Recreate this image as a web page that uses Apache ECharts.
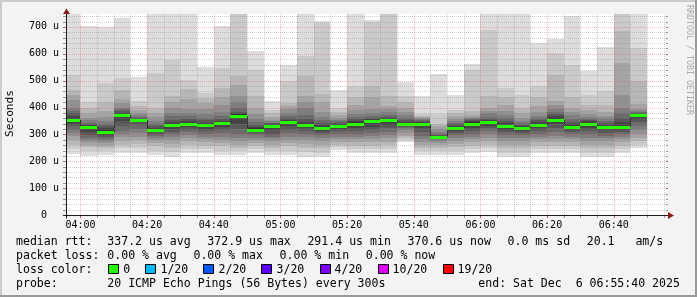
<!DOCTYPE html>
<html><head><meta charset="utf-8">
<script src="https://cdn.jsdelivr.net/npm/echarts@6/dist/echarts.min.js"></script>
<style>html,body{margin:0;padding:0;background:#f3f3f3}#c{width:697px;height:297px}</style>
</head><body><div id="c"></div>
<script>
// ---------------- data ----------------
const binStarts = ['03:55','04:00','04:05','04:10','04:15','04:20','04:25','04:30','04:35','04:40','04:45','04:50',
  '04:55','05:00','05:05','05:10','05:15','05:20','05:25','05:30','05:35','05:40','05:45','05:50',
  '05:55','06:00','06:05','06:10','06:15','06:20','06:25','06:30','06:35','06:40','06:45'];
const binMinutes = 5;
const endTime = '06:55:40';
const spanMinutes = 180;

// median rtt per bin (microseconds)
const medianRtt = [354,326,309,372.9,353,317,336,340,336,341,370,318,333,346,336,324,333,340,351,355,338,338,291.4,322,
  340,345,331,322,336,355,328,340,328,327,370.6];

// 20 sorted ping rtts per bin (microseconds)
const pings = [
  [228,245,262,280,295,305,318,330,340,350,358,368,378,388,398,428,447,465,521,780],
  [219,238,252,262,270,278,285,296,308,320,330,334,338,344,352,362,380,400,420,705],
  [225,238,248,258,268,276,283,290,298,305,315,322,330,340,350,365,386,420,492,700],
  [231,248,262,276,290,300,312,330,350,368,376,380,386,393,399,415,430,467,510,734],
  [232,250,265,278,290,305,320,335,345,352,357,359,362,366,372,380,390,405,423,514],
  [225,240,255,268,278,287,295,302,308,313,320,325,330,338,348,365,380,398,529,780],
  [217,235,250,265,280,290,300,310,320,330,340,346,355,368,380,399,420,442,576,780],
  [230,245,260,275,288,298,308,318,328,335,343,350,358,368,380,395,430,470,504,780],
  [230,245,258,270,282,292,302,312,320,328,338,344,352,362,375,395,417,435,454,551],
  [225,240,255,268,280,292,305,318,328,336,344,350,358,368,385,410,440,473,547,705],
  [225,238,250,262,275,285,300,320,340,360,375,380,385,400,420,443,485,516,770,790],
  [230,245,258,268,278,288,296,304,310,315,322,328,335,345,358,375,399,442,541,610],
  [223,238,250,262,275,285,292,300,315,328,336,338,341,344,348,355,365,380,392,423],
  [225,240,255,268,280,292,305,318,330,340,350,354,360,368,380,395,405,417,498,557],
  [217,235,250,265,280,292,302,312,322,330,340,346,356,372,399,420,442,516,593,780],
  [217,232,248,262,275,288,298,306,314,320,328,334,342,352,365,385,420,450,715,721],
  [242,252,262,272,282,292,302,312,320,328,336,340,344,349,355,362,372,385,399,467],
  [230,245,258,270,282,292,302,312,322,332,345,350,356,364,375,390,410,440,479,780],
  [230,245,258,270,282,295,305,315,328,345,355,358,362,368,378,395,440,480,720,725],
  [230,245,260,272,285,298,310,322,335,348,358,362,366,372,382,395,405,442,770,790],
  [270,278,286,295,305,315,322,328,333,337,342,346,352,360,372,385,399,420,442,495],
  [225,238,250,262,272,282,295,310,322,332,342,345,348,352,356,360,365,370,374,442],
  [225,240,250,260,268,276,282,286,289,291,293,295,298,302,310,320,330,340,374,523],
  [225,240,252,265,276,286,296,306,313,318,326,332,338,344,350,358,368,380,391,446],
  [230,245,258,270,282,292,302,312,322,332,346,350,354,358,362,366,372,386,541,562],
  [236,250,262,275,288,300,312,322,332,340,348,352,358,366,378,386,399,442,690,780],
  [217,232,248,262,275,288,298,308,318,326,336,342,350,360,372,388,410,440,473,780],
  [217,232,248,262,275,288,298,306,314,320,326,330,335,342,350,360,378,400,448,780],
  [230,245,258,270,282,292,302,312,322,332,340,346,352,360,370,385,404,440,479,641],
  [230,245,258,270,282,295,308,322,338,350,362,368,375,385,395,410,423,520,603,656],
  [230,245,258,270,282,292,300,308,315,322,332,338,346,356,372,385,399,440,560,740],
  [217,232,248,262,275,288,300,312,322,332,344,348,352,358,366,375,391,410,448,535],
  [217,232,248,262,275,285,295,305,315,322,332,336,342,350,360,370,385,410,461,626],
  [230,245,258,270,282,292,300,308,316,322,333,345,362,380,400,448,566,684,770,790],
  [248,262,275,288,300,315,330,345,358,366,372,375,378,382,388,395,414,498,622,780]
];

const xTickLabels = ['04:00','04:20','04:40','05:00','05:20','05:40','06:00','06:20','06:40'];
const yTickLabels = ['0  ','100 u','200 u','300 u','400 u','500 u','600 u','700 u'];
const yMax = 748;
const yMajorStep = 100, yMinorStep = 20;
const xMajorStep = 20, xMinorStep = 5;

const rttLabel = 'median rtt:';
const rttStats = ['337.2 us avg','372.9 us max','291.4 us min','370.6 us now','0.0 ms sd','20.1   am/s'];
const lossLabel = 'packet loss:';
const lossStats = ['0.00 % avg','0.00 % max','0.00 % min','0.00 % now'];
const colorLabel = 'loss color:';
const lossLevels = ['0','1/20','2/20','3/20','4/20','10/20','19/20'];
const lossColors = ['#26ff00','#00b8ff','#0059ff','#5e00ff','#7e00ff','#dd00ff','#ff0000'];
const probeLabel = 'probe:';
const probeText = '20 ICMP Echo Pings (56 Bytes) every 300s';
const endText = 'end: Sat Dec  6 06:55:40 2025';
const yAxisName = 'Seconds';
const watermark = 'RRDTOOL / TOBI OETIKER';

// ---------------- helpers ----------------
const toMin = s => { const p = s.split(':').map(Number); return p[0]*60 + p[1] + (p[2]||0)/60; };
const END = toMin(endTime), START = END - spanMinutes;
const MONO = 'DejaVu Sans Mono';
const G = {left: 66, top: 14, width: 600, height: 201};

const smokeData = binStarts.map((s, i) => {
  const t = toMin(s);
  return [t, t + binMinutes, medianRtt[i], i > 0 ? medianRtt[i-1] : medianRtt[i]].concat(pings[i]);
});

function renderSmoke(params, api) {
  const t0 = api.value(0), t1 = api.value(1);
  const xa = Math.round(api.coord([t0, 0])[0]);
  const xb = Math.round(api.coord([t1, 0])[0]);
  const Y = v => Math.round(api.coord([t0, v])[1]);
  const kids = [];
  const half = 10;
  for (let i = 1; i <= half; i++) {
    const lo = api.value(3 + i), hi = api.value(3 + 21 - i);
    const sh = Math.floor(190 / half * (half - i)) + 50;
    const yt = Y(hi), yb = Y(lo);
    kids.push({type: 'rect', shape: {x: xa, y: yt, width: xb - xa, height: yb - yt},
      style: {fill: 'rgb(' + sh + ',' + sh + ',' + sh + ')'}});
  }
  const ym = Y(api.value(2)), yp = Y(api.value(3));
  if (ym !== yp) {
    kids.push({type: 'line', shape: {x1: xa + 0.5, y1: yp, x2: xa + 0.5, y2: ym},
      style: {stroke: '#202020', lineWidth: 1}});
  }
  kids.push({type: 'rect', shape: {x: xa, y: ym - 1, width: xb - xa, height: 3}, style: {fill: '#26ff00'}});
  return {type: 'group', children: kids};
}

const yMinor = [], yMajor = [], xMinor = [], xMajor = [];
for (let v = yMinorStep; v < yMax; v += yMinorStep) (v % yMajorStep === 0 ? yMajor : yMinor).push([START, v]);
const firstMajor = toMin(xTickLabels[0]);
for (let t = Math.ceil(START / xMinorStep) * xMinorStep; t <= END; t += xMinorStep)
  ((t - firstMajor) % xMajorStep === 0 ? xMajor : xMinor).push([t, 0]);

function hLine(color, tick) {
  return function (params, api) {
    const cs = params.coordSys;
    const y = Math.round(api.coord([START, api.value(1)])[1]) + 0.5;
    return {type: 'group', children: [
      {type: 'line', shape: {x1: cs.x, y1: y, x2: cs.x + cs.width, y2: y}, style: {stroke: color, lineWidth: 1, lineDash: [1, 1]}},
      {type: 'line', shape: {x1: cs.x - 3, y1: y, x2: cs.x, y2: y}, style: {stroke: tick, lineWidth: 1}},
      {type: 'line', shape: {x1: cs.x + cs.width, y1: y, x2: cs.x + cs.width + 2, y2: y}, style: {stroke: tick, lineWidth: 1}}
    ]};
  };
}
function vLine(color, tick) {
  return function (params, api) {
    const cs = params.coordSys;
    const x = Math.round(api.coord([api.value(0), 0])[0]) + 0.5;
    return {type: 'group', children: [
      {type: 'line', shape: {x1: x, y1: cs.y, x2: x, y2: cs.y + cs.height}, style: {stroke: color, lineWidth: 1, lineDash: [1, 1]}},
      {type: 'line', shape: {x1: x, y1: cs.y + cs.height, x2: x, y2: cs.y + cs.height + 3}, style: {stroke: tick, lineWidth: 1}}
    ]};
  };
}
const MINOR = 'rgba(140,140,140,0.42)', MAJOR = 'rgba(225,70,70,0.36)';
const MINOR_T = 'rgba(110,110,110,0.7)', MAJOR_T = 'rgba(170,30,30,0.7)';

function gridSeries(data, fn, z) {
  return {type: 'custom', coordinateSystem: 'cartesian2d', data: data, renderItem: fn, silent: true,
    animation: false, z: z, clip: false};
}

// ---------------- legend graphics ----------------
const CW = 6.955, GAP = 16.6, LX = 16, VX = 107.3;
const LFS = 11.55;
const rows = [242, 256, 270, 284];
const gfx = [];
function txt(x, y, s, extra) {
  gfx.push(Object.assign({type: 'text', x: x, y: y, silent: true,
    style: {text: s, fill: '#000', font: LFS + 'px "' + MONO + '"', align: 'left', verticalAlign: 'middle'}}, extra || {}));
}
txt(LX, rows[0], rttLabel);
let x = VX;
rttStats.forEach(s => { txt(x, rows[0], s); x += s.length * CW + GAP; });
txt(LX, rows[1], lossLabel);
x = VX;
lossStats.forEach(s => { txt(x, rows[1], s); x += s.length * CW + GAP; });
txt(LX, rows[2], colorLabel);
x = 108.3;
lossLevels.forEach((s, i) => {
  gfx.push({type: 'rect', silent: true, shape: {x: Math.round(x) + 0.5, y: 264.5, width: 10, height: 9},
    style: {fill: lossColors[i], stroke: '#000', lineWidth: 1}});
  txt(x + 15, rows[2], s);
  x += 15 + s.length * CW + 15.2;
});
txt(LX, rows[3], probeLabel);
txt(VX, rows[3], probeText);
txt(478.3, rows[3], endText);
// y axis name
gfx.push({type: 'text', x: 10.5, y: 113.5, rotation: Math.PI / 2, silent: true,
  style: {text: yAxisName, fill: '#000', font: '11.2px "' + MONO + '"', align: 'center', verticalAlign: 'middle'}});
// watermark
gfx.push({type: 'text', x: 689.5, y: 5, rotation: -Math.PI / 2, silent: true,
  style: {text: watermark, fill: '#a9a9a9', font: '8.3px "' + MONO + '"', align: 'left', verticalAlign: 'middle'}});
// frame
gfx.push({type: 'rect', silent: true, shape: {x: 0, y: 0, width: 697, height: 2}, style: {fill: '#cbcbcb'}});
gfx.push({type: 'rect', silent: true, shape: {x: 0, y: 0, width: 2, height: 297}, style: {fill: '#cbcbcb'}});
gfx.push({type: 'rect', silent: true, shape: {x: 0, y: 295, width: 697, height: 2}, style: {fill: '#999999'}});
gfx.push({type: 'rect', silent: true, shape: {x: 695, y: 0, width: 2, height: 297}, style: {fill: '#999999'}});
// axes + arrows
const AX = G.left + 0.5, AY = G.top + G.height + 0.5;
gfx.push({type: 'line', silent: true, z: 100, shape: {x1: AX, y1: AY + 3, x2: AX, y2: 12}, style: {stroke: '#1a1a1a', lineWidth: 1}});
gfx.push({type: 'line', silent: true, z: 100, shape: {x1: G.left - 3, y1: AY, x2: G.left + G.width + 3, y2: AY}, style: {stroke: '#1a1a1a', lineWidth: 1}});
gfx.push({type: 'polygon', silent: true, z: 100, shape: {points: [[AX, 8.5], [AX - 3.5, 14], [AX + 3.5, 14]]}, style: {fill: '#8b1c1c'}});
gfx.push({type: 'polygon', silent: true, z: 100, shape: {points: [[G.left + G.width + 8, AY], [G.left + G.width + 2, AY - 3.5], [G.left + G.width + 2, AY + 3.5]]}, style: {fill: '#8b1c1c'}});

// ---------------- chart ----------------
const chart = echarts.init(document.getElementById('c'), null, {renderer: 'canvas'});
chart.setOption({
  backgroundColor: '#f3f3f3',
  animation: false,
  grid: Object.assign({show: true, backgroundColor: '#ffffff', borderWidth: 0}, G),
  xAxis: {
    type: 'value', min: START, max: END,
    axisLine: {show: false}, axisTick: {show: false}, splitLine: {show: false},
    axisLabel: {customValues: xTickLabels.map(toMin), color: '#000', fontFamily: MONO, fontSize: 10, margin: 5,
      formatter: v => { const l = xTickLabels.find(s => Math.abs(toMin(s) - v) < 1e-6); return l || ''; }}
  },
  yAxis: {
    type: 'value', min: 0, max: yMax, interval: yMajorStep,
    axisLine: {show: false}, axisTick: {show: false}, splitLine: {show: false},
    axisLabel: {color: '#000', fontFamily: MONO, fontSize: 10, margin: 7,
      formatter: v => (v % yMajorStep === 0 ? yTickLabels[v / yMajorStep] : '')}
  },
  series: [
    {type: 'custom', name: 'smoke', coordinateSystem: 'cartesian2d', data: smokeData, renderItem: renderSmoke,
      clip: true, silent: true, z: 2},
    gridSeries(yMinor, hLine(MINOR, MINOR_T), 5),
    gridSeries(xMinor, vLine(MINOR, MINOR_T), 5),
    gridSeries(yMajor, hLine(MAJOR, MAJOR_T), 6),
    gridSeries(xMajor, vLine(MAJOR, MAJOR_T), 6)
  ],
  graphic: gfx
});
</script>
</body></html>
